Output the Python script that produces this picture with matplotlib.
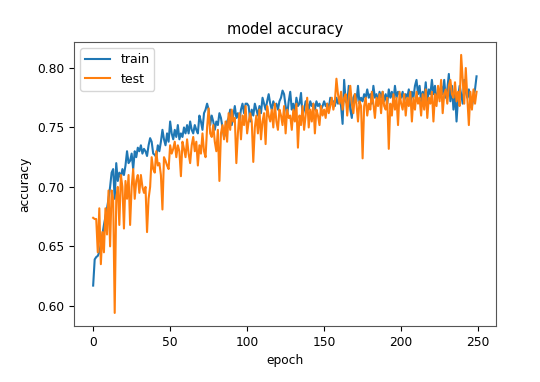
"""
model accuracy — train / test accuracy per epoch.
"""

import matplotlib

matplotlib.use("Agg")
import matplotlib.pyplot as plt

# accuracy per epoch
train_acc = [
    0.617, 0.639, 0.641, 0.642, 0.645, 0.652, 0.660, 0.668, 0.675, 0.682,
    0.690, 0.700, 0.712, 0.715, 0.690, 0.720, 0.705, 0.712, 0.708, 0.715,
    0.710, 0.718, 0.730, 0.720, 0.722, 0.728, 0.715, 0.730, 0.725, 0.733,
    0.730, 0.735, 0.728, 0.732, 0.730, 0.726, 0.735, 0.741, 0.738, 0.728,
    0.727, 0.725, 0.735, 0.730, 0.738, 0.748, 0.740, 0.735, 0.745, 0.738,
    0.755, 0.745, 0.740, 0.748, 0.742, 0.752, 0.740, 0.745, 0.742, 0.750,
    0.745, 0.752, 0.745, 0.755, 0.748, 0.745, 0.752, 0.748, 0.745, 0.760,
    0.755, 0.748, 0.762, 0.765, 0.770, 0.765, 0.752, 0.760, 0.755, 0.748,
    0.755, 0.752, 0.762, 0.758, 0.750, 0.742, 0.745, 0.755, 0.758, 0.765,
    0.752, 0.760, 0.768, 0.758, 0.762, 0.755, 0.765, 0.770, 0.762, 0.770,
    0.770, 0.768, 0.755, 0.765, 0.760, 0.770, 0.765, 0.760, 0.768, 0.762,
    0.775, 0.770, 0.765, 0.772, 0.778, 0.770, 0.765, 0.772, 0.768, 0.770,
    0.765, 0.772, 0.775, 0.781, 0.778, 0.768, 0.760, 0.772, 0.780, 0.765,
    0.770, 0.762, 0.775, 0.768, 0.770, 0.779, 0.760, 0.765, 0.772, 0.770,
    0.765, 0.772, 0.768, 0.770, 0.765, 0.772, 0.768, 0.770, 0.765, 0.768,
    0.772, 0.768, 0.770, 0.765, 0.775, 0.770, 0.772, 0.768, 0.775, 0.770,
    0.775, 0.768, 0.753, 0.790, 0.772, 0.770, 0.785, 0.765, 0.758, 0.775,
    0.778, 0.772, 0.785, 0.770, 0.775, 0.772, 0.778, 0.775, 0.782, 0.775,
    0.778, 0.770, 0.785, 0.775, 0.778, 0.772, 0.780, 0.775, 0.780, 0.772,
    0.778, 0.770, 0.782, 0.775, 0.780, 0.772, 0.785, 0.775, 0.780, 0.778,
    0.775, 0.780, 0.772, 0.778, 0.775, 0.782, 0.770, 0.780, 0.775, 0.785,
    0.790, 0.778, 0.785, 0.772, 0.780, 0.775, 0.788, 0.770, 0.782, 0.778,
    0.790, 0.778, 0.785, 0.772, 0.780, 0.775, 0.785, 0.778, 0.790, 0.775,
    0.782, 0.795, 0.772, 0.785, 0.765, 0.780, 0.755, 0.775, 0.785, 0.778,
    0.770, 0.790, 0.780, 0.775, 0.782, 0.770, 0.768, 0.775, 0.782, 0.793,
]
test_acc = [
    0.674, 0.673, 0.673, 0.645, 0.682, 0.635, 0.662, 0.645, 0.682, 0.660,
    0.697, 0.650, 0.697, 0.690, 0.594, 0.690, 0.700, 0.668, 0.710, 0.700,
    0.665, 0.705, 0.690, 0.710, 0.668, 0.700, 0.715, 0.690, 0.705, 0.710,
    0.695, 0.710, 0.700, 0.695, 0.700, 0.662, 0.690, 0.700, 0.725, 0.715,
    0.712, 0.730, 0.718, 0.720, 0.710, 0.681, 0.725, 0.722, 0.718, 0.715,
    0.735, 0.728, 0.732, 0.738, 0.725, 0.735, 0.730, 0.709, 0.738, 0.732,
    0.725, 0.740, 0.728, 0.720, 0.735, 0.742, 0.730, 0.738, 0.718, 0.735,
    0.728, 0.745, 0.730, 0.725, 0.750, 0.766, 0.745, 0.742, 0.752, 0.738,
    0.730, 0.748, 0.705, 0.745, 0.752, 0.740, 0.755, 0.738, 0.762, 0.748,
    0.765, 0.755, 0.758, 0.720, 0.745, 0.762, 0.740, 0.760, 0.752, 0.768,
    0.745, 0.755, 0.762, 0.755, 0.721, 0.750, 0.760, 0.745, 0.765, 0.740,
    0.755, 0.762, 0.736, 0.768, 0.760, 0.755, 0.765, 0.750, 0.770, 0.755,
    0.748, 0.765, 0.760, 0.752, 0.768, 0.745, 0.765, 0.758, 0.760, 0.748,
    0.765, 0.755, 0.770, 0.733, 0.760, 0.752, 0.768, 0.748, 0.760, 0.775,
    0.750, 0.765, 0.755, 0.770, 0.745, 0.765, 0.760, 0.752, 0.768, 0.760,
    0.765, 0.758, 0.770, 0.762, 0.768, 0.775, 0.765, 0.772, 0.791, 0.778,
    0.770, 0.780, 0.765, 0.775, 0.778, 0.760, 0.775, 0.785, 0.770, 0.762,
    0.778, 0.770, 0.755, 0.772, 0.768, 0.724, 0.768, 0.775, 0.760, 0.770,
    0.765, 0.780, 0.770, 0.758, 0.775, 0.768, 0.778, 0.762, 0.780, 0.768,
    0.765, 0.775, 0.732, 0.770, 0.760, 0.778, 0.765, 0.775, 0.752, 0.780,
    0.770, 0.765, 0.778, 0.760, 0.775, 0.768, 0.780, 0.755, 0.775, 0.765,
    0.780, 0.770, 0.775, 0.760, 0.778, 0.765, 0.782, 0.758, 0.775, 0.770,
    0.780, 0.755, 0.778, 0.768, 0.785, 0.772, 0.790, 0.762, 0.778, 0.782,
    0.770, 0.785, 0.790, 0.778, 0.775, 0.788, 0.772, 0.780, 0.768, 0.811,
    0.790, 0.770, 0.800, 0.775, 0.752, 0.780, 0.765, 0.782, 0.770, 0.780,
]
series_labels = ["train", "test"]

fig = plt.figure(figsize=(5.4, 3.82), dpi=100)
ax = fig.add_axes([0.137, 0.147, 0.781, 0.743])

ax.plot(train_acc, color="#1f77b4", linewidth=1.5, label=series_labels[0])
ax.plot(test_acc, color="#ff7f0e", linewidth=1.5, label=series_labels[1])

ax.set_title("model accuracy", fontsize=10.5)
ax.set_ylabel("accuracy", fontsize=8.8)
ax.set_xlabel("epoch", fontsize=8.8)
ax.set_xticks([0, 50, 100, 150, 200, 250])
ax.set_yticks([0.60, 0.65, 0.70, 0.75, 0.80])
ax.tick_params(labelsize=8.8)
for spine in ax.spines.values():
    spine.set_color("#555555")
ax.legend(loc="upper left", fontsize=9)

fig.savefig("out.png", dpi=100)
